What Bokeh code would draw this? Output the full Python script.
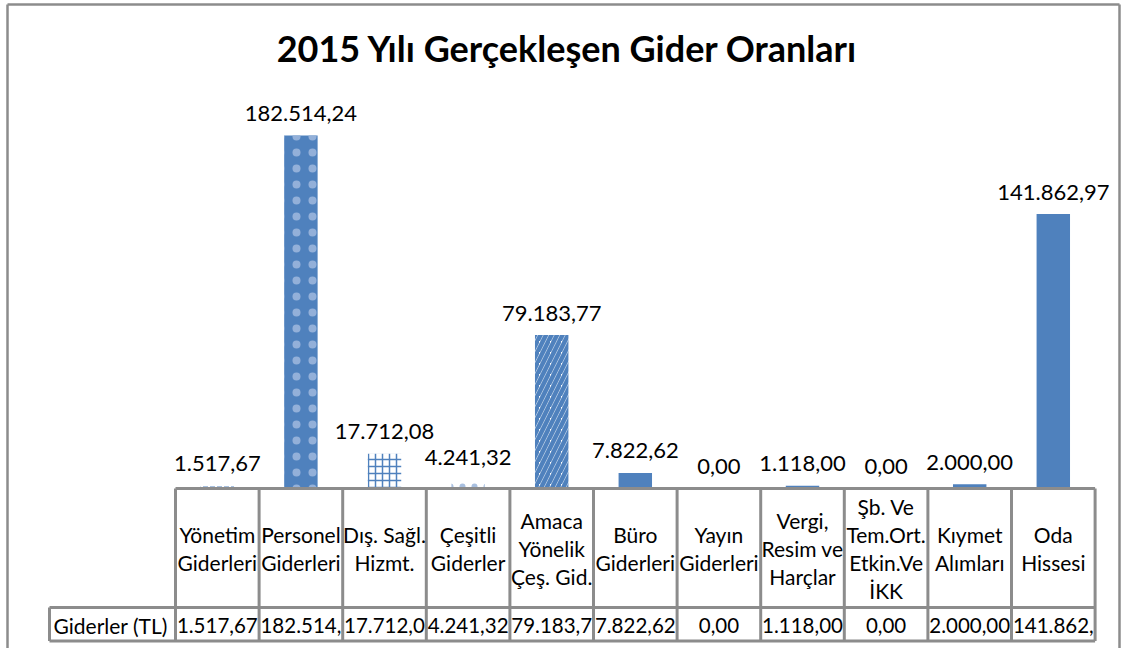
from bokeh.plotting import figure
from bokeh.models import Range1d, ColumnDataSource
from bokeh.embed import file_html
from bokeh.resources import INLINE
from bokeh.core.properties import value

# ---------------- data ----------------
title_text = "2015 Yılı Gerçekleşen Gider Oranları"
row_label = "Giderler (TL)"
category_lines = [
    ["Yönetim", "Giderleri"],
    ["Personel", "Giderleri"],
    ["Dış. Sağl.", "Hizmt."],
    ["Çeşitli", "Giderler"],
    ["Amaca", "Yönelik", "Çeş. Gid."],
    ["Büro", "Giderleri"],
    ["Yayın", "Giderleri"],
    ["Vergi,", "Resim ve", "Harçlar"],
    ["Şb. Ve", "Tem.Ort.", "Etkin.Ve", "İKK"],
    ["Kıymet", "Alımları"],
    ["Oda", "Hissesi"],
]
values = [1517.67, 182514.24, 17712.08, 4241.32, 79183.77, 7822.62,
          0.00, 1118.00, 0.00, 2000.00, 141862.97]

BLUE = "#4f81bd"
fill_colors = ["white", BLUE, "white", "white", "white", BLUE, BLUE, BLUE, BLUE, BLUE, BLUE]
hatch_patterns = ["horizontal_dash", "dot", "cross", "dot", "right_diagonal_line", " ", " ", " ", " ", " ", " "]
hatch_colors = [BLUE, "#93b0d9", BLUE, "#a9c0e0", BLUE, BLUE, BLUE, BLUE, BLUE, BLUE, BLUE]
hatch_scales = [7, 16, 7, 12, 11, 10, 10, 10, 10, 10, 10]
hatch_weights = [2, 1, 1.5, 1, 4.5, 1, 1, 1, 1, 1, 1]


def tr_fmt(v):
    s = f"{v:,.2f}"
    return s.replace(",", "#").replace(".", ",").replace("#", ".")


label_texts = [tr_fmt(v) for v in values]
cell_texts = [t[:8] for t in label_texts]  # clipped like the cells

# ---------------- layout (image pixels) ----------------
W_FIG, H_FIG = 1121, 648
ORG = 0
COL_LEFT = 175.0
COL_W = 83.6
BASE = 487.5
TOP_MAX = 135.0
K = max(values) / (BASE - TOP_MAX)

TBL_TOP = 488.0
TBL_MID = 607.0
TBL_BOT = 640.5
LBL_LEFT = 49.0
LINE_H = 28.0
GRAY = "#8c8c8c"
BORDER_L, BORDER_T, BORDER_R = 7.0, 4.0, 1119.0


def dx(px):
    return (px - COL_LEFT) / COL_W


def dy(py):
    return (BASE - py) * K


p = figure(width=W_FIG, height=H_FIG,
           x_range=Range1d(dx(ORG), dx(ORG + W_FIG)),
           y_range=Range1d(dy(ORG + H_FIG), dy(ORG)),
           x_axis_location=None, y_axis_location=None,
           min_border=0, toolbar_location=None, output_backend="svg")
p.grid.visible = False
p.outline_line_color = None
p.background_fill_color = "white"
p.border_fill_color = "white"

# outer chart border
p.segment(x0=[dx(BORDER_L), dx(BORDER_L), dx(BORDER_R)],
          y0=[dy(BORDER_T), dy(H_FIG), dy(H_FIG)],
          x1=[dx(BORDER_R), dx(BORDER_L), dx(BORDER_R)],
          y1=[dy(BORDER_T), dy(BORDER_T), dy(BORDER_T)],
          line_color=GRAY, line_width=2.5)

n = len(values)
xs = [i + 0.5 for i in range(n)]

# one renderer per bar so each hatch style is applied exactly
for i in range(n):
    src = ColumnDataSource(dict(x=[xs[i]], top=[values[i]]))
    p.vbar(x="x", top="top", bottom=0, width=0.4, source=src,
           fill_color=fill_colors[i], hatch_pattern=hatch_patterns[i],
           hatch_color=hatch_colors[i], hatch_scale=hatch_scales[i],
           hatch_weight=hatch_weights[i], line_color=None)

# bar value labels
p.text(x=xs, y=[v + 22 * K for v in values], text=label_texts,
       text_align="center", text_baseline="middle",
       text_font=value("Lato"), text_font_size="22px", text_color="black")

# title
p.text(x=[dx(567)], y=[dy(47)], text=[title_text], text_align="center",
       text_baseline="middle", text_font=value("Lato"), text_font_size="36px",
       text_font_style="bold", text_color="black")

# table grid
x0s, y0s, x1s, y1s = [], [], [], []
for i in range(n + 1):
    x0s.append(i); x1s.append(i); y0s.append(dy(TBL_TOP)); y1s.append(dy(TBL_BOT))
x0s.append(0); x1s.append(n); y0s.append(dy(TBL_TOP)); y1s.append(dy(TBL_TOP))
for yy in (TBL_MID, TBL_BOT):
    x0s.append(dx(LBL_LEFT)); x1s.append(n); y0s.append(dy(yy)); y1s.append(dy(yy))
x0s.append(dx(LBL_LEFT)); x1s.append(dx(LBL_LEFT)); y0s.append(dy(TBL_MID)); y1s.append(dy(TBL_BOT))
p.segment(x0=x0s, y0=y0s, x1=x1s, y1=y1s, line_color=GRAY, line_width=3)

# header texts
hx, hy, ht = [], [], []
hc = (TBL_TOP + TBL_MID) / 2
for i, lines in enumerate(category_lines):
    m = len(lines)
    for j, t in enumerate(lines):
        hx.append(i + 0.5)
        hy.append(dy(hc + (j - (m - 1) / 2) * LINE_H))
        ht.append(t)
p.text(x=hx, y=hy, text=ht, text_align="center", text_baseline="middle",
       text_font=value("Lato"), text_font_size="21px", text_color="black")

# data row
rc = (TBL_MID + TBL_BOT) / 2 + 1
p.text(x=xs, y=[dy(rc)] * n, text=cell_texts, text_align="center", text_baseline="middle",
       text_font=value("Lato"), text_font_size="20.5px", text_color="black")
p.text(x=[dx(LBL_LEFT + 4)], y=[dy(rc)], text=[row_label], text_align="left",
       text_baseline="middle", text_font=value("Lato"), text_font_size="21px",
       text_color="black")

open("out.html", "w").write(file_html(p, INLINE))
